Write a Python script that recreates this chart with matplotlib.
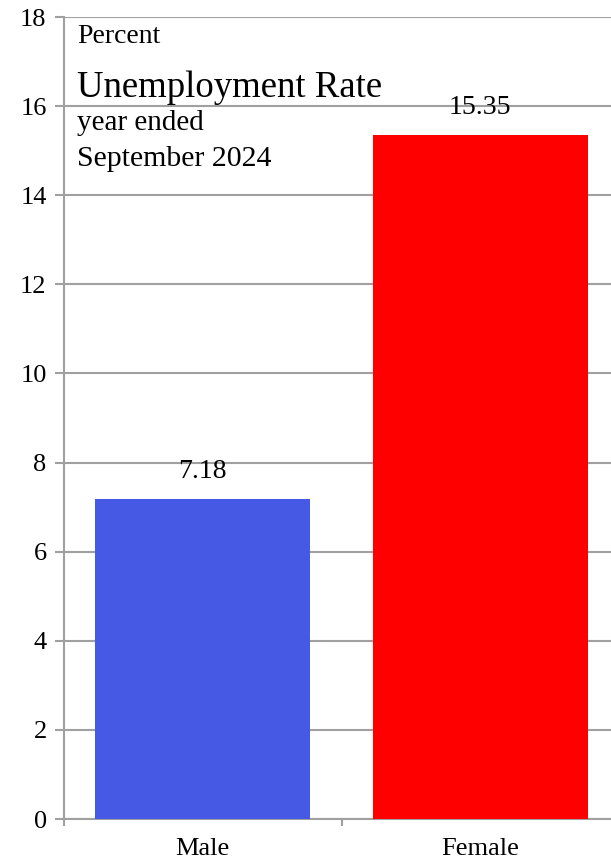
import matplotlib.pyplot as plt
import numpy as np

# Данные
categories = ['Male', 'Female']
rates = [7.18, 15.35]
bar_colors = ['#4659E4', '#FF0000']
y_ticks = [0, 2, 4, 6, 8, 10, 12, 14, 16, 18]

W, H = 611, 864
plt.rcParams['font.family'] = ['Liberation Serif', 'DejaVu Serif']

fig = plt.figure(figsize=(W / 100, H / 100), dpi=100)
ax = fig.add_axes([64 / W, 45 / H, 555 / W, 802 / H])

x = np.arange(len(categories))
ax.bar(x, rates, width=0.775, color=bar_colors, zorder=3)

for xi, v in zip(x, rates):
    ax.annotate(f'{v:.2f}', (xi, v), xytext=(0, 20), textcoords='offset points',
                ha='center', va='center', fontsize=20, color='black', zorder=4)

grid_col = '#A0A0A0'
ax.set_xlim(-0.5, 1.5)
ax.set_ylim(0, 18)
ax.set_yticks(y_ticks)
ax.set_yticklabels([str(t) for t in y_ticks])
ax.yaxis.grid(True, color=grid_col, linewidth=1.5, zorder=0)
ax.set_xticks(x)
ax.set_xticklabels(categories)
ax.set_xticks([-0.5, 0.5, 1.5], minor=True)
ax.tick_params(axis='x', which='major', length=0, labelsize=19, pad=14)
ax.tick_params(axis='x', which='minor', length=5, width=1.5, color=grid_col)
ax.tick_params(axis='y', length=6.5, width=1.5, color=grid_col, labelsize=19, pad=6)

for s in ['top', 'right']:
    ax.spines[s].set_visible(False)
for s in ['left', 'bottom']:
    ax.spines[s].set_color(grid_col)
    ax.spines[s].set_linewidth(1.5)

# Подписи
fig.text(77 / W, 1 - 43 / H, 'Percent', fontsize=20, va='baseline')
fig.text(77 / W, 1 - 97 / H, 'Unemployment Rate', fontsize=26.5, va='baseline')
fig.text(77 / W, 1 - 130 / H, 'year ended', fontsize=21, va='baseline')
fig.text(77 / W, 1 - 166 / H, 'September 2024', fontsize=21.5, va='baseline')

fig.savefig('out.png', dpi=100)
